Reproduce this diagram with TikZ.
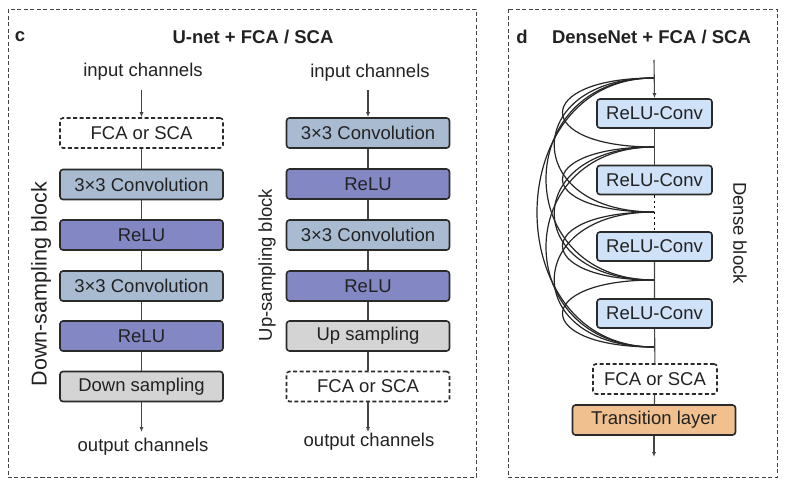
\documentclass[tikz,border=0pt]{standalone}
\usepackage{fontspec}
\setmainfont{Liberation Sans}
\usetikzlibrary{arrows.meta}
\definecolor{convc}{HTML}{A9BBD0}
\definecolor{reluc}{HTML}{8387C4}
\definecolor{grayc}{HTML}{D4D4D4}
\definecolor{rcc}{HTML}{CFE2F8}
\definecolor{tranc}{HTML}{F0C08E}
\definecolor{edgec}{HTML}{2A2A2A}
\definecolor{txtc}{HTML}{222222}
\definecolor{linec}{HTML}{444444}
\begin{document}
\begin{tikzpicture}[x=1pt,y=-1pt,
  every node/.style={text=txtc},
  box/.style={draw=edgec, line width=1.6pt, rounded corners=3pt,
    minimum width=163pt, minimum height=30pt, inner sep=0pt,
    font=\fontsize{18.5}{22}\selectfont},
  dbox/.style={box, dash pattern=on 4pt off 2.5pt, fill=white},
  rcbox/.style={box, fill=rcc, minimum width=115pt, minimum height=29pt},
  lbl/.style={font=\fontsize{18.5}{22}\selectfont, inner sep=0pt},
  ttl/.style={font=\fontsize{18.5}{22}\selectfont\bfseries, inner sep=0pt},
  conn/.style={draw=linec, line width=1.1pt},
  arr/.style={conn, -{Latex[length=5pt,width=4pt]}},
  panel/.style={draw=linec, line width=1pt, dash pattern=on 4pt off 2.5pt},
  dense/.style={draw=black!85, line width=1.2pt}
]
\useasboundingbox (0,0) rectangle (786,490);
\fill[white] (0,0) rectangle (786,490);

% panels
\draw[panel] (8,9) rectangle (476,477);
\draw[panel] (508,9) rectangle (777,477);

\node[ttl] (lc) at (20,37) {c};
\node[ttl] (tc) at (253,37) {U-net + FCA / SCA};
\node[ttl] (ld) at (522,37) {d};
\node[ttl] (td) at (651.5,37) {DenseNet + FCA / SCA};

% ---------- left column (down-sampling)
\node[lbl] (inL) at (143,72) {input channels};
\coordinate (inLa) at (141.5,90);
\node[dbox] (fL) at (141.5,133) {FCA or SCA};
\node[box, fill=convc] (cL1) at (141.5,184.5) {3×3 Convolution};
\node[box, fill=reluc] (rL1) at (141.5,235) {ReLU};
\node[box, fill=convc] (cL2) at (141.5,286) {3×3 Convolution};
\node[box, fill=reluc] (rL2) at (141.5,336) {ReLU};
\node[box, fill=grayc] (dL) at (141.5,386.5) {Down sampling};
\coordinate (outLa) at (141.5,432);
\node[lbl] (outL) at (143,447) {output channels};
\node[lbl, rotate=90, font=\fontsize{21.5}{24}\selectfont] (dsb) at (41,284) {Down-sampling block};

\draw[arr] (inLa) -- (fL.north);
\draw[conn] (fL) -- (cL1) (cL1) -- (rL1) (rL1) -- (cL2) (cL2) -- (rL2) (rL2) -- (dL);
\draw[arr] (dL.south) -- (outLa);

% ---------- right column (up-sampling)
\node[lbl] (inR) at (370,73) {input channels};
\coordinate (inRa) at (368,90);
\node[box, fill=convc] (cR1) at (368,133) {3×3 Convolution};
\node[box, fill=reluc] (rR1) at (368,184) {ReLU};
\node[box, fill=convc] (cR2) at (368,235) {3×3 Convolution};
\node[box, fill=reluc] (rR2) at (368,286) {ReLU};
\node[box, fill=grayc] (uR) at (368,336) {Up sampling};
\node[dbox] (fR) at (368,386.5) {FCA or SCA};
\coordinate (outRa) at (368,432);
\node[lbl] (outR) at (369,442) {output channels};
\node[lbl, rotate=90] (usb) at (267,265) {Up-sampling block};

\draw[arr] (inRa) -- (cR1.north);
\draw[conn] (cR1) -- (rR1) (rR1) -- (cR2) (cR2) -- (rR2) (rR2) -- (uR) (uR) -- (fR);
\draw[arr] (fR.south) -- (outRa);

% ---------- DenseNet
\coordinate (top) at (654,60);
\coordinate (J0) at (654,78);
\coordinate (J1) at (654,147);
\coordinate (J2) at (654,212);
\coordinate (J3) at (654,280);
\coordinate (J4) at (654,347);

\foreach \i/\j/\w in {0/1/122,0/2/133,0/3/144,0/4/156,
                      1/2/122,1/3/133,1/4/144,
                      2/3/122,2/4/133,
                      3/4/122}
  \draw[dense] (J\i) .. controls +(-\w,0) and +(-\w,0) .. (J\j);

\node[rcbox] (b1) at (654.5,113.5) {ReLU-Conv};
\node[rcbox] (b2) at (654.5,180) {ReLU-Conv};
\node[rcbox] (b3) at (654.5,246.5) {ReLU-Conv};
\node[rcbox] (b4) at (654.5,313.5) {ReLU-Conv};
\node[dbox, minimum width=124pt] (fD) at (655,379) {FCA or SCA};
\node[box, fill=tranc] (tD) at (654,420) {Transition layer};
\coordinate (endD) at (654,457);
\node[lbl, rotate=-90] (dbl) at (740,233) {Dense block};

\draw[arr] (top) -- (b1.north);
\draw[conn] (b1) -- (b2);
\draw[draw=black, line width=1.8pt, dash pattern=on 2.2pt off 3.2pt] (b2.south) -- (b3.north);
\draw[conn] (b3) -- (b4) (b4) -- (fD) (fD) -- (tD);
\draw[arr] (tD.south) -- (endD);
\end{tikzpicture}
\end{document}
